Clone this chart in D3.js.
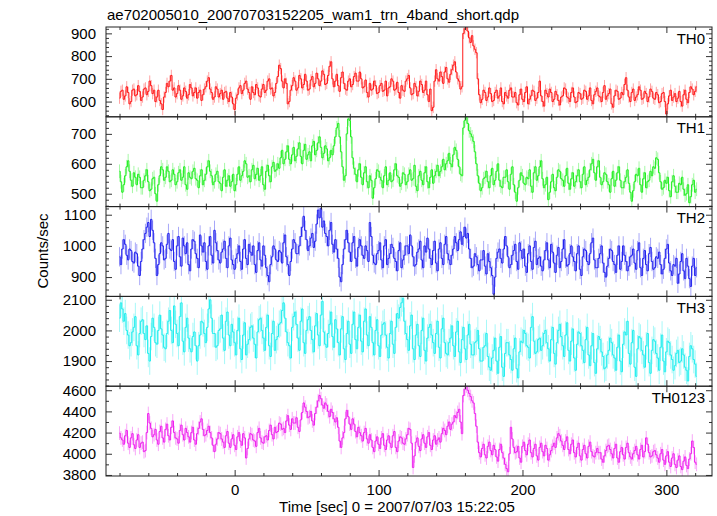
<!DOCTYPE html>
<html><head><meta charset="utf-8">
<script src="https://cdn.jsdelivr.net/npm/d3@7"></script>
<style>body{margin:0;background:#fff}svg{display:block}text{font-family:"Liberation Sans",Arial,sans-serif}</style>
</head><body><svg id="c" width="717" height="516"></svg>
<script>
const title = "ae702005010_20070703152205_wam1_trn_4band_short.qdp";
const xLabel = "Time [sec] 0 = 2007/07/03 15:22:05";
const yLabel = "Counts/sec";
const bandNames = ["TH0","TH1","TH2","TH3","TH0123"];
const timeStart = -80, timeStep = 1;
const th0 = [
615,645,650,610,625,665,640,590,600,650, 655,625,630,670,645,605,620,655,660,630,
645,690,670,635,650,600,620,650,605,590, 565,620,640,680,665,690,715,650,660,620,
635,670,650,610,625,660,645,615,630,675, 660,625,640,660,615,640,650,605,630,655,
665,690,705,655,640,610,620,665,655,620, 635,650,610,640,645,615,600,640,620,590,
565,615,630,660,670,635,650,680,690,655, 640,610,665,640,630,675,660,625,620,655,
675,640,650,690,700,655,660,625,640,680, 710,760,745,690,660,700,680,590,600,650,
670,705,690,650,660,715,700,660,675,720, 690,650,655,695,710,665,680,725,700,670,
690,735,720,675,680,715,755,775,700,665, 690,720,670,645,705,730,680,655,650,690,
700,665,675,710,725,690,690,730,700,660, 665,695,640,620,680,650,655,690,670,635,
640,670,680,645,650,690,625,660,665,700, 690,650,655,685,640,615,670,650,645,690,
700,715,660,630,635,680,665,625,645,690, 675,640,650,690,630,600,655,560,575,690,
740,700,690,730,710,680,730,750,700,685, 720,740,760,775,730,700,690,655,665,900,
920,935,910,880,860,890,845,830,815,700, 630,595,610,650,640,605,620,660,635,600,
605,640,650,615,625,660,600,590,640,625, 615,650,660,620,620,640,595,585,630,655,
610,600,640,665,590,610,625,650,645,605, 615,640,690,625,600,580,650,635,620,655,
640,600,610,645,630,605,585,620,625,660, 655,620,615,600,640,660,620,595,600,640,
635,610,615,650,645,610,625,660,605,590, 630,645,660,625,620,600,640,670,610,625,
635,655,590,575,625,650,645,610,615,640, 630,675,705,650,620,600,640,655,605,620,
630,665,650,610,615,645,635,600,620,655, 645,615,610,640,630,595,600,635,640,600,
545,590,625,650,605,620,635,600,615,645, 600,580,630,650,610,595,640,665,655,630,
645,665];
const th1 = [
575,540,505,530,560,590,610,575,545,525, 570,555,530,565,555,520,520,545,560,580,
540,510,515,550,555,500,475,530,560,590, 580,545,555,590,575,540,545,580,565,530,
540,570,580,545,555,590,530,515,570,555, 550,575,585,550,545,520,560,580,530,545,
565,590,610,575,560,530,540,565,575,540, 535,510,555,580,525,545,560,525,540,565,
510,530,565,590,545,560,575,610,600,555, 560,540,580,595,550,565,585,545,560,590,
530,515,575,595,560,540,590,605,575,580, 600,585,620,645,600,615,640,660,615,600,
630,655,610,625,650,670,625,600,645,665, 615,630,640,610,660,675,630,645,670,690,
655,620,635,660,650,610,620,645,630,660, 690,720,735,690,640,590,545,560,700,750,
745,690,620,585,565,540,580,600,555,530, 570,590,540,520,560,545,485,520,550,580,
575,555,545,520,560,590,530,545,570,540, 545,580,600,560,555,525,535,570,565,530,
540,565,580,545,550,595,525,510,560,575, 545,530,570,590,540,520,555,580,535,560,
575,595,560,575,590,615,580,600,610,635, 600,590,630,655,645,615,590,565,560,720,
745,755,735,710,700,690,675,640,600,560, 535,510,520,550,555,575,540,520,560,585,
530,545,575,600,545,525,520,555,555,580, 540,515,565,590,530,505,475,520,545,570,
560,535,530,555,550,580,525,505,570,590, 545,560,590,610,550,520,530,555,480,505,
540,565,520,510,555,580,575,550,545,525, 560,585,535,515,550,570,525,540,560,580,
540,520,565,590,530,545,555,580,600,615, 570,545,590,610,555,530,540,570,565,540,
530,505,550,575,525,545,570,590,545,520, 520,540,555,580,535,505,475,510,540,565,
560,585,530,505,550,570,520,540,545,575, 560,590,585,620,615,570,540,515,520,545,
535,555,510,490,540,560,525,505,505,535, 530,555,515,495,500,530,470,490,530,545,
505,515];
const th2 = [
965,940,990,1020,1005,970,955,990,985,950, 945,980,975,935,905,950,990,1020,1040,1060,
1075,1030,1085,1050,1010,960,905,940,975,1010, 1000,955,960,1005,1040,990,985,1020,950,925,
1000,1030,965,935,1025,1000,975,1010,940,920, 990,1020,1015,975,960,930,1035,1000,980,1010,
950,925,1000,1030,970,945,1050,1010,985,955, 945,980,990,1015,960,930,1000,1025,955,940,
925,960,975,1000,950,925,990,1020,960,940, 1005,980,970,1000,940,915,985,1010,955,935,
1000,970,930,905,885,940,965,1000,990,955, 950,985,980,945,1010,1035,965,940,905,950,
990,1020,1010,975,975,1000,1030,1060,1095,1050, 1020,985,1000,1025,1040,995,1015,1070,1115,1090,
1120,1060,1080,1040,1030,1000,1050,1075,1005,980, 1020,990,960,900,885,940,990,1020,1050,1010,
980,950,1010,1030,960,935,995,1020,1000,970, 960,1000,985,950,1075,1030,970,945,940,975,
985,1010,955,930,1000,1020,940,960,975,1005, 995,960,950,920,985,1010,930,955,970,1000,
1000,975,1035,1000,965,935,940,980,990,1015, 955,930,1000,980,1025,990,960,940,985,1015,
945,920,990,1010,960,940,1005,1030,975,955, 940,970,990,1030,1010,985,1020,1045,1005,1030,
1060,1025,1040,990,960,930,935,975,965,940, 920,955,955,985,935,910,975,950,930,905,
845,900,960,980,990,960,945,990,1030,1000, 965,930,940,970,985,1005,950,925,1010,985,
960,990,935,915,975,1000,950,925,995,1015, 940,960,965,935,920,955,985,1010,955,930,
1005,980,945,915,970,995,930,950,990,1020, 960,935,940,975,1000,965,950,920,975,1000,
925,905,965,990,985,950,940,975,1010,1025, 955,930,930,960,975,1000,945,915,900,935,
960,990,985,950,940,915,970,1000,925,950, 1000,970,950,920,935,965,970,990,945,925,
985,1010,930,905,960,985,940,920,975,995, 950,925,930,965,960,980,940,910,925,960,
990,1005,945,920,905,940,935,960,880,910, 950,975,920,895,960,935,895,870,935,960,
905,930];
const th3 = [
2040,2090,2070,2030,2055,2000,1985,1950,1960,1995, 2010,2045,1950,1920,1990,2030,2035,1990,1970,2015,
1925,1900,1980,2040,2010,1960,1955,2000,2050,2005, 1985,1945,1940,1990,2030,2065,2000,1960,2080,2020,
1990,1950,2045,2090,1965,1930,2010,2040,1975,1940, 1930,1980,1995,1950,1900,1950,1985,2030,2025,1990,
1960,2010,2070,2100,2040,1990,1990,1945,1950,2000, 2005,2050,1975,1935,2030,2060,1985,1950,2020,1995,
1960,1920,2000,2040,1940,1905,1985,2025,1920,1955, 1970,2010,2015,1975,1955,1910,1995,2035,2040,2000,
1975,1935,2010,2050,1950,1915,1990,2030,1935,1970, 1980,2020,2025,2065,2090,2040,1995,1960,1950,1910,
2010,2045,2060,2020,1975,1935,2030,2070,1960,1925, 2000,2035,2045,2000,1970,1930,2015,2055,1985,1950,
2050,2095,1995,1955,1945,1990,2020,2060,1980,1945, 2035,2005,1960,1920,2005,2045,1940,1905,1990,2030,
1955,1925,2020,2060,1970,1940,2010,2050,1965,1930, 2030,2070,1985,1950,2045,2010,1960,1920,2000,2035,
1950,1915,1985,2020,2025,1985,1945,1910,1990,2030, 1955,1925,2010,2055,2040,2075,2090,2105,2030,1990,
1970,1935,2015,2050,1940,1905,1985,2020,1950,1915, 2000,2040,1935,1900,1975,2010,2020,1985,1960,1925,
1990,2030,1945,1910,2005,2040,1960,1925,1920,1960, 1975,2015,1950,1915,1995,2030,1930,1895,1970,2010,
1940,1905,1985,2020,1955,1920,1920,1960,1965,2000, 1940,1900,1900,1945,1950,1990,1915,1880,1870,1910,
1935,1975,1900,1860,1945,1980,1880,1850,1925,1960, 1960,1920,1905,1870,1940,1975,1875,1845,1930,1965,
1960,2000,1990,1950,1945,1910,2010,2045,1965,1925, 1930,1970,1975,1935,1950,1990,2000,1960,1940,1900,
1970,2010,1925,1890,1960,2000,2020,1980,1950,1915, 1985,2025,1935,1900,1965,2005,1910,1870,1955,1995,
1990,1950,1935,1895,1970,2010,1920,1885,1950,1990, 1895,1860,1940,1980,1970,1930,1915,1875,1880,1920,
1935,1975,1960,1920,1910,1870,1945,1985,1900,1865, 1955,1995,1985,2030,1925,1890,1960,2000,1880,1850,
1940,1980,1975,1935,1920,1880,1950,1990,1895,1860, 1935,1970,1965,1925,1910,1870,1945,1985,1900,1865,
1930,1965,1960,1920,1905,1870,1885,1925,1935,1895, 1900,1940,1920,1880,1870,1835,1915,1950,1940,1905,
1890,1850];
const th0123 = [
4195,4150,4130,4090,4170,4220,4100,4060,4150,4190, 4085,4050,4130,4180,4060,4100,4110,4020,4030,4200,
4380,4290,4240,4160,4180,4230,4130,4090,4210,4260, 4150,4110,4230,4280,4170,4130,4250,4310,4200,4150,
4140,4100,4220,4270,4180,4130,4240,4200,4160,4110, 4200,4250,4130,4090,4190,4240,4300,4330,4230,4170,
4180,4220,4260,4200,4150,4080,4020,4090,4140,4200, 4190,4140,4110,4060,4170,4210,4100,4060,4140,4180,
4080,4040,4160,4200,4120,4080,4190,4150,3960,4050, 4140,4190,4180,4130,4120,4070,4200,4240,4150,4110,
4100,4160,4170,4130,4220,4270,4180,4140,4250,4200, 4210,4290,4280,4230,4240,4200,4310,4360,4270,4230,
4330,4290,4290,4340,4250,4210,4320,4390,4480,4440, 4400,4340,4350,4400,4310,4270,4380,4440,4500,4550,
4520,4460,4430,4480,4460,4400,4350,4420,4390,4330, 4300,4340,4250,4120,4060,4150,4200,4330,4410,4350,
4280,4230,4330,4280,4210,4160,4250,4200,4170,4120, 4200,4240,4140,4100,4180,4130,4060,4020,4120,4160,
4090,4050,4150,4190,4080,4040,4130,4170,4100,4060, 4170,4210,4060,4020,4120,4160,4150,4100,4090,4140,
4180,4240,4230,4100,3870,3980,4110,4150,4070,4030, 4140,4180,4100,4060,4160,4200,4080,4040,4130,4170,
4090,4130,4150,4110,4190,4240,4220,4180,4260,4300, 4230,4280,4300,4360,4340,4390,4420,4300,4190,4550,
4610,4640,4600,4570,4540,4500,4480,4380,4260,4110, 4010,3970,4050,4090,3990,3960,4070,4110,4030,3990,
4080,4040,3970,3930,4040,4090,4010,3960,3900,3860, 3830,4000,4250,4140,4060,4010,4020,4070,3960,3920,
4070,4110,4030,3990,4090,4130,4010,3970,4050,4090, 3980,3940,4060,4100,4020,3980,4080,4050,3940,3990,
4030,4070,4100,4060,4150,4190,4170,4120,4080,4040, 4120,4160,4040,4000,4090,4130,4010,3970,4060,4100,
3980,3940,4040,4080,4000,3960,4070,4110,4020,3980, 3970,4010,4050,4010,4010,3950,3920,3980,4030,4070,
4080,4040,4000,3960,4050,4090,3960,3920,4020,4060, 3990,3950,4060,4100,4010,3970,3950,4000,4030,4070,
3990,3950,4040,4080,3970,4020,4150,4090,4010,3970, 3980,4020,4030,3990,3960,3920,4000,4040,3940,3900,
3980,4020,3920,3880,3960,4000,3900,3870,3940,3980, 3880,3850,3930,3970,3890,3860,3950,4000,4120,4060,
3920,3900];
const errors = [25, 23, 31, 45, 65];
const yDomains = [[533,928],[457,757],[838,1126],[1818,2111],[3790,4638]];
const yMajor = [[600,700,800,900],[500,600,700],[900,1000,1100],[1900,2000,2100],[3800,4000,4200,4400,4600]];
const yMinorStep = [20,20,20,20,100];
const xMajor = [0,100,200,300];
const colors = ["#ff1a1a","#22ee22","#2222ee","#22eeee","#ee22ee"];

const series = [th0, th1, th2, th3, th0123];
const svg = d3.select("#c");
const L = 106, R = 712, T = 27, B = 476;
const ph = (B - T) / 5;
const x = d3.scaleLinear().domain([-89.4, 331.7]).range([L, R]);
const xMinor = d3.range(-80, 331, 20).filter(v => !xMajor.includes(v));

svg.append("text").attr("x", 107).attr("y", 20).attr("font-size", 15).text(title);

series.forEach((vals, k) => {
  const top = T + k * ph, bot = top + ph;
  const y = d3.scaleLinear().domain(yDomains[k]).range([bot, top]);
  const g = svg.append("g");
  const cid = "clip" + k;
  svg.append("clipPath").attr("id", cid).append("rect")
    .attr("x", L).attr("y", top).attr("width", R - L).attr("height", ph);
  const data = vals.map((v, i) => ({t: timeStart + i * timeStep, v}));
  const pg = g.append("g").attr("clip-path", `url(#${cid})`);
  pg.selectAll("line.err").data(data).join("line").attr("class", "err")
    .attr("x1", d => x(d.t)).attr("x2", d => x(d.t))
    .attr("y1", d => y(d.v - errors[k])).attr("y2", d => y(d.v + errors[k]))
    .attr("stroke", colors[k]).attr("stroke-opacity", 0.4).attr("stroke-width", 1);
  pg.append("path").datum(data)
    .attr("d", d3.line().x(d => x(d.t)).y(d => y(d.v)).curve(d3.curveStep))
    .attr("fill", "none").attr("stroke", colors[k]).attr("stroke-width", 1);

  const minor = d3.range(yDomains[k][0] - (yDomains[k][0] % yMinorStep[k]) + yMinorStep[k], yDomains[k][1], yMinorStep[k])
    .filter(v => !yMajor[k].includes(v));
  const ax = (sel, gen) => { sel.call(gen); sel.select(".domain").remove(); sel.selectAll("line").attr("stroke", "#333"); };
  g.append("g").attr("transform", `translate(${L},0)`)
    .call(s => ax(s, d3.axisLeft(y).tickValues(yMajor[k]).tickSize(-6).tickPadding(10).tickFormat(d3.format("d"))))
    .selectAll("text").attr("font-size", 15).attr("fill", "#000").attr("font-family", '"Liberation Sans",Arial,sans-serif');
  g.append("g").attr("transform", `translate(${L},0)`)
    .call(s => ax(s, d3.axisLeft(y).tickValues(minor).tickSize(-3).tickFormat("")));
  g.append("g").attr("transform", `translate(${R},0)`)
    .call(s => ax(s, d3.axisRight(y).tickValues(yMajor[k]).tickSize(-6).tickFormat("")));
  g.append("g").attr("transform", `translate(${R},0)`)
    .call(s => ax(s, d3.axisRight(y).tickValues(minor).tickSize(-3).tickFormat("")));
  g.append("g").attr("transform", `translate(0,${top})`)
    .call(s => ax(s, d3.axisTop(x).tickValues(xMajor).tickSize(-6).tickFormat("")));
  g.append("g").attr("transform", `translate(0,${top})`)
    .call(s => ax(s, d3.axisTop(x).tickValues(xMinor).tickSize(-3).tickFormat("")));
  const bx = g.append("g").attr("transform", `translate(0,${bot})`)
    .call(s => ax(s, d3.axisBottom(x).tickValues(xMajor).tickSize(-6).tickPadding(8).tickFormat(k === 4 ? d3.format("d") : "")));
  bx.selectAll("text").attr("font-size", 15).attr("fill", "#000").attr("font-family", '"Liberation Sans",Arial,sans-serif');
  g.append("g").attr("transform", `translate(0,${bot})`)
    .call(s => ax(s, d3.axisBottom(x).tickValues(xMinor).tickSize(-3).tickFormat("")));
  g.append("rect").attr("x", L).attr("y", top).attr("width", R - L).attr("height", ph)
    .attr("fill", "none").attr("stroke", "#222").attr("stroke-width", 1);
  g.append("text").attr("x", 705).attr("y", top + 16.5).attr("text-anchor", "end")
    .attr("font-size", 15).text(bandNames[k]);
});

svg.append("text").attr("x", 397).attr("y", 512).attr("text-anchor", "middle").attr("font-size", 15).text(xLabel);
svg.append("text").attr("transform", "translate(48,251) rotate(-90)").attr("text-anchor", "middle")
  .attr("font-size", 15).text(yLabel);
</script></body></html>
